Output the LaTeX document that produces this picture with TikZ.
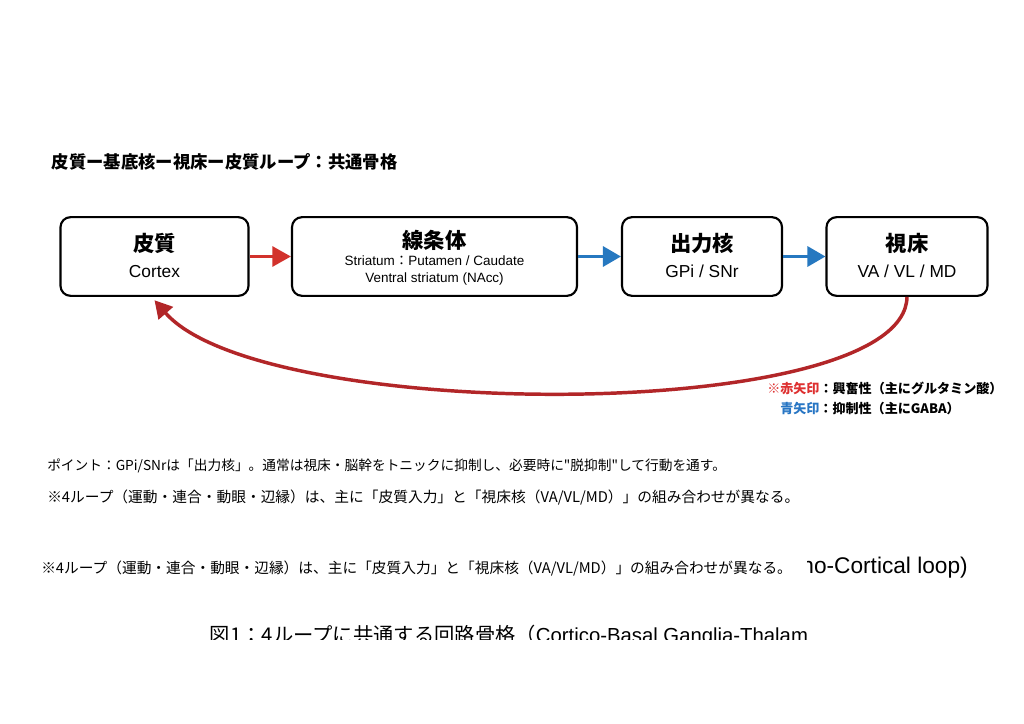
\documentclass[tikz,border=0pt]{standalone}
\usepackage{fontspec}
\usepackage{graphicx}
\setmainfont{Liberation Sans}
\newfontfamily\jp{Noto Sans CJK JP}
\usetikzlibrary{arrows.meta,calc}
\definecolor{redA}{RGB}{210,50,44}
\definecolor{redC}{RGB}{178,38,40}
\definecolor{blueA}{RGB}{38,120,192}
\definecolor{legred}{RGB}{222,48,48}
\definecolor{legblue}{RGB}{40,118,196}
\newcommand\fsz[1]{\fontsize{#1}{#1}\selectfont}
\begin{document}
\begin{tikzpicture}[x=0.75pt,y=-0.75pt,
  box/.style={draw=black, line width=1.6pt, rounded corners=7.5pt, minimum height=59pt, inner sep=0pt},
  redarr/.style={draw=redA, line width=2.4pt, -{Triangle[length=14pt,width=15pt]}},
  bluearr/.style={draw=blueA, line width=2.4pt, -{Triangle[length=13.5pt,width=15pt]}},
  loopar/.style={draw=redC, line width=2.6pt, -{Triangle[length=13pt,width=14pt]}},
  head/.style={inner sep=0pt, anchor=base, font=\jp\bfseries\fsz{16}},
  sub/.style={inner sep=0pt, anchor=base, font=\fsz{13}},
  small/.style={inner sep=0pt, anchor=base, font=\fsz{10.1}},
  txt/.style={inner sep=0pt, anchor=base west},
]
\useasboundingbox[fill=white] (0,0) rectangle (1024,724);

% title
\node[txt, font=\jp\bfseries\fsz{13}] (title) at (51.5,168.5) {皮質ー基底核ー視床ー皮質ループ：共通骨格};

% boxes
\node[box, minimum width=141pt] (cortex) at (154.5,256.5) {};
\node[box, minimum width=213.75pt] (str) at (434.5,256.5) {};
\node[box, minimum width=120pt] (gpi) at (702,256.5) {};
\node[box, minimum width=120.75pt] (thal) at (907,256.5) {};

% box texts
\node[head] (cortexH) at (154.5,251) {皮質};
\node[sub] (cortexS) at (154.5,277) {Cortex};
\node[head] (strH) at (434.5,248) {線条体};
\node[small] (strS1) at (434.5,265.5) {Striatum{\jp：}Putamen / Caudate};
\node[small] (strS2) at (434.5,282.5) {Ventral striatum (NAcc)};
\node[head] (gpiH) at (702,251) {出力核};
\node[sub] (gpiS) at (702,277) {GPi / SNr};
\node[head] (thalH) at (907,251) {視床};
\node[sub] (thalS) at (907,277) {VA / VL / MD};

% arrows
\draw[redarr] (cortex.east) -- (str.west);
\draw[bluearr] (str.east) -- (gpi.west);
\draw[bluearr] (gpi.east) -- (thal.west);
\draw[loopar] (thal.south) .. controls (905,424) and (262,424) .. ([yshift=-2.5pt]cortex.south);

% legend
\node[txt, font=\jp\bfseries\fsz{9.8}] (leg1) at (767,393) {\textcolor{legred}{※赤矢印}：興奮性（主にグルタミン酸）};
\node[txt, font=\jp\bfseries\fsz{9.8}] (leg2) at (780,413) {\textcolor{legblue}{青矢印}：抑制性（主にGABA）};

% notes
\node[txt, font=\jp\fsz{10.3}] (point) at (47,470.5) {\resizebox{509pt}{!}{ポイント：GPi/SNrは「出力核」。通常は視床・脳幹をトニックに抑制し、必要時に"脱抑制"して行動を通す。}};
\node[txt, font=\jp\fsz{11.2}] (note1) at (47,502.5) {\resizebox{564pt}{!}{※4ループ（運動・連合・動眼・辺縁）は、主に「皮質入力」と「視床核（VA/VL/MD）」の組み合わせが異なる。}};

% overlapped caption tail
\begin{scope}
\clip (807,540) rectangle (1024,600);
\node[inner sep=0pt, anchor=base east, font=\fsz{17}] (captail) at (968,573) {no-Cortical loop)};
\end{scope}
\node[txt, font=\jp\fsz{11.1}] (note2) at (41,573.5) {\resizebox{563pt}{!}{※4ループ（運動・連合・動眼・辺縁）は、主に「皮質入力」と「視床核（VA/VL/MD）」の組み合わせが異なる。}};

% clipped caption
\begin{scope}
\clip (0,600) rectangle (1024,639);
\node[inner sep=0pt, anchor=base, font=\fsz{14.6}] (caption) at (509,642) {\resizebox{448.5pt}{!}{{\jp 図1：4ループに共通する回路骨格（}Cortico-Basal Ganglia-Thalam}};
\end{scope}
\end{tikzpicture}
\end{document}
